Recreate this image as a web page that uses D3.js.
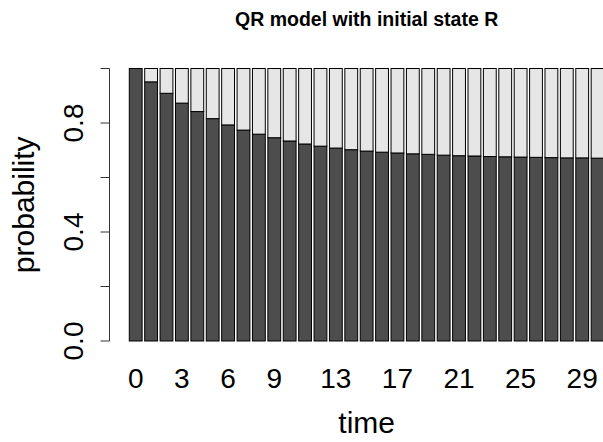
<!DOCTYPE html>
<html><head><meta charset="utf-8">
<script src="https://cdn.jsdelivr.net/npm/d3@7"></script>
<style>
html,body{margin:0;padding:0;background:#fff;}
svg{display:block;font-family:"Liberation Sans",Arial,Helvetica,sans-serif;}
</style></head>
<body>
<svg id="chart" width="603" height="442"></svg>
<script>
const times = d3.range(0, 31);
const probR = [1.000, 0.951, 0.909, 0.873, 0.842, 0.816, 0.793, 0.774, 0.759, 0.746,
               0.734, 0.723, 0.715, 0.708, 0.702, 0.697, 0.693, 0.690, 0.687, 0.685,
               0.682, 0.680, 0.679, 0.677, 0.676, 0.675, 0.674, 0.673, 0.672, 0.672, 0.671];
const probQ = [0.000, 0.049, 0.091, 0.127, 0.158, 0.184, 0.207, 0.226, 0.241, 0.254,
               0.266, 0.277, 0.285, 0.292, 0.298, 0.303, 0.307, 0.310, 0.313, 0.315,
               0.318, 0.320, 0.321, 0.323, 0.324, 0.325, 0.326, 0.327, 0.328, 0.328, 0.329];
const yTicks = [0, 0.2, 0.4, 0.6, 0.8, 1.0];
const yTickLabels = ["0.0", "", "0.4", "", "0.8", ""];
const xLabelTimes = [0, 3, 6, 9, 13, 17, 21, 25, 29];
const title = "QR model with initial state R";

const svg = d3.select("#chart");
const space = 0.2, barW = 1;
const n = times.length;
const xMin = space, xMax = n * (barW + space);
const ext = (xMax - xMin) * 0.04;
const x = d3.scaleLinear().domain([xMin - ext, xMax + ext]).range([110.3, 623]);
const y = d3.scaleLinear().domain([0, 1]).range([341, 68.5]);

const rows = times.map((t, i) => ({t, R: probR[i], Q: probQ[i]}));
const stack = d3.stack().keys(["R", "Q"])(rows);
const colors = {R: "#4d4d4d", Q: "#e6e6e6"};
const left = i => space + i * (barW + space);

svg.append("g").selectAll("g").data(stack).join("g")
  .attr("fill", d => colors[d.key])
  .selectAll("rect").data(d => d).join("rect")
  .attr("x", (d, i) => x(left(i)))
  .attr("width", x(barW) - x(0))
  .attr("y", d => y(d[1]))
  .attr("height", d => y(d[0]) - y(d[1]))
  .attr("stroke", "#000").attr("stroke-width", 1);

// y axis
const ax = svg.append("g").attr("stroke", "#333").attr("stroke-width", 1);
const axX = 109.5;
ax.append("line").attr("x1", axX).attr("x2", axX).attr("y1", y(0)).attr("y2", y(1));
ax.selectAll("line.t").data(yTicks).join("line").attr("class", "t")
  .attr("x1", axX - 9).attr("x2", axX).attr("y1", d => y(d)).attr("y2", d => y(d));
svg.append("g").selectAll("text").data(yTicks).join("text")
  .attr("transform", d => `translate(82.5,${y(d)}) rotate(-90)`)
  .attr("text-anchor", "middle").attr("font-size", 28).attr("fill", "#000")
  .text((d, i) => yTickLabels[i]);

// x labels
svg.append("g").selectAll("text").data(xLabelTimes).join("text")
  .attr("x", d => x(left(times.indexOf(d)) + barW / 2))
  .attr("y", 388).attr("text-anchor", "middle").attr("font-size", 28).attr("fill", "#000")
  .text(d => d);

const cx = (x.range()[0] + x.range()[1]) / 2;
svg.append("text").attr("x", cx).attr("y", 433).attr("text-anchor", "middle")
  .attr("font-size", 30).text("time");
svg.append("text").attr("transform", `translate(34,${(y(0) + y(1)) / 2}) rotate(-90)`)
  .attr("text-anchor", "middle").attr("font-size", 30).text("probability");
svg.append("text").attr("x", cx).attr("y", 26).attr("text-anchor", "middle")
  .attr("font-size", 19.5).attr("font-weight", "bold").text(title);
</script>
</body></html>
